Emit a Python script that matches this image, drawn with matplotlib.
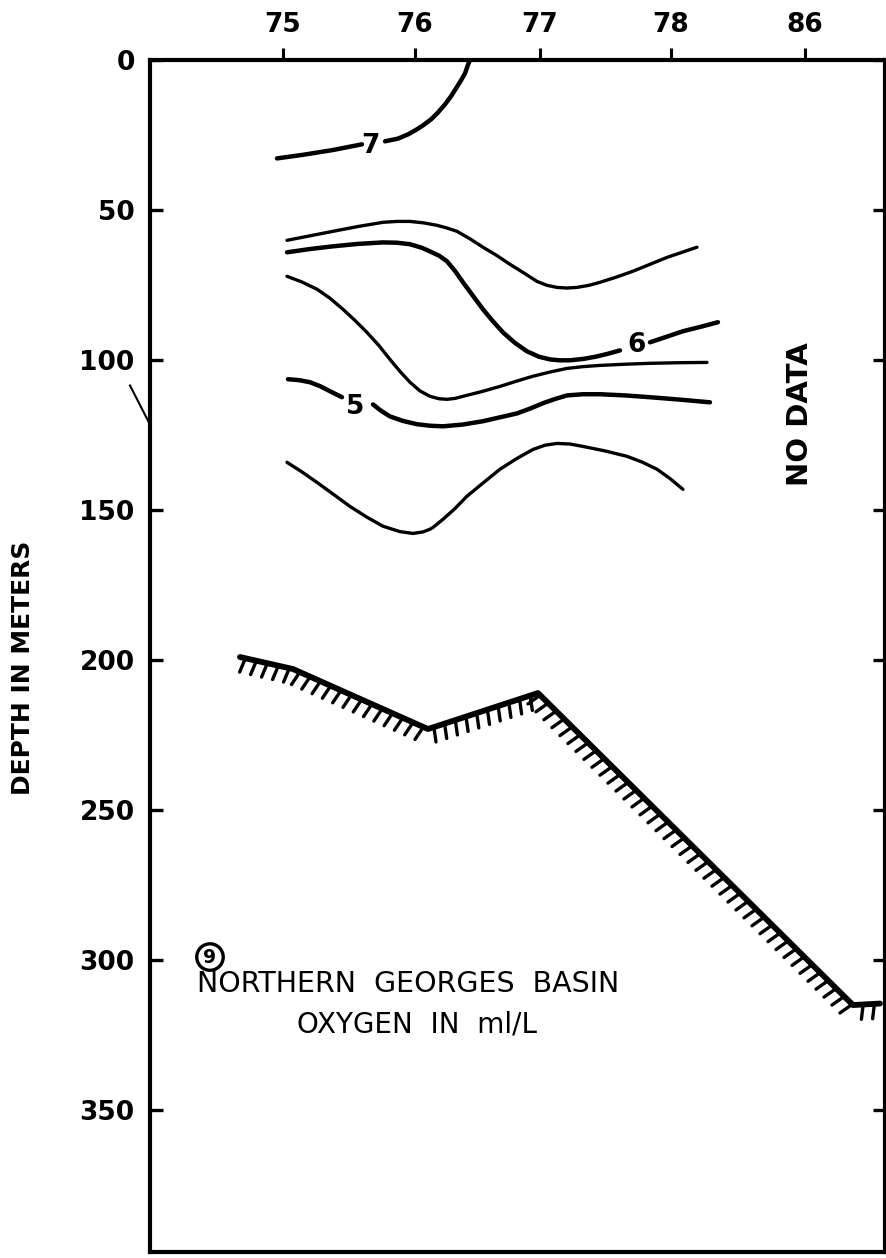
import matplotlib
matplotlib.use('Agg')
import matplotlib.pyplot as plt
from matplotlib import patheffects as pe

# ---------------- data ----------------
stations = ['75', '76', '77', '78', '86']
station_dist = [0, 132, 257, 388, 522]          # along-section position of stations
depth_ticks = [0, 50, 100, 150, 200, 250, 300, 350]

# 7 ml/L isoline (broken for label)
c7a_x = [-6, 20, 50, 79]
c7a_d = [32.8, 31.6, 30.0, 28.1]
c7b_x = [102, 115, 125, 133, 140, 148, 155, 162, 168, 173, 178, 182, 185, 187]
c7b_d = [27.1, 26.2, 24.8, 23.3, 21.8, 19.8, 17.5, 14.8, 12.1, 9.5, 6.8, 4.5, 1.6, 0.0]

# upper thin isoline
cA_x = [4, 27, 50, 75, 100, 114, 127, 141, 154, 164, 174, 187, 200, 214, 227, 241, 254,
        264, 274, 284, 294, 306, 317, 334, 350, 367, 384, 399, 414]
cA_d = [60.1, 58.6, 57.1, 55.5, 54.1, 53.8, 53.8, 54.3, 55.1, 56.0, 57.1, 59.6, 62.4, 65.2,
        68.1, 71.0, 73.8, 75.1, 75.8, 76.0, 75.8, 75.1, 74.1, 72.3, 70.4, 68.1, 65.8, 64.1, 62.4]

# 6 ml/L isoline (broken for label)
c6a_x = [4, 27, 50, 75, 100, 114, 127, 139, 147, 156, 164, 172, 180, 190, 200, 210, 220,
         232, 244, 256, 267, 277, 287, 301, 314, 325, 337]
c6a_d = [64.1, 63.0, 62.1, 61.3, 60.8, 60.9, 61.4, 62.6, 63.8, 65.2, 67.1, 70.3, 74.1, 78.6,
         83.1, 87.1, 90.8, 94.3, 97.1, 98.9, 99.8, 100.1, 100.1, 99.6, 98.8, 97.9, 96.8]
c6b_x = [367, 384, 400, 418, 435]
c6b_d = [94.1, 92.2, 90.4, 88.9, 87.4]

# middle thin isoline
cC_x = [4, 19, 34, 47, 60, 72, 84, 96, 107, 117, 127, 137, 147, 156, 164, 172, 180, 199,
        217, 234, 250, 267, 284, 300, 317, 342, 367, 395, 424]
cC_d = [72.1, 74.0, 76.4, 79.4, 83.1, 86.8, 90.8, 95.2, 99.8, 103.8, 107.4, 110.3, 112.1,
        112.9, 113.1, 112.8, 112.1, 110.5, 108.8, 107.0, 105.4, 104.0, 102.8, 102.2, 101.8,
        101.4, 101.1, 100.9, 100.8]

# 5 ml/L isoline (broken for label)
c5a_x = [5, 16, 27, 37, 47, 59]
c5a_d = [106.4, 106.7, 107.4, 108.7, 110.4, 112.4]
c5b_x = [90, 98, 107, 120, 134, 147, 160, 180, 200, 217, 234, 247, 260, 272, 284, 300, 317,
         342, 367, 397, 427]
c5b_d = [114.8, 116.9, 118.8, 120.3, 121.4, 121.9, 122.1, 121.5, 120.4, 119.1, 117.8, 116.2,
         114.4, 113.0, 111.8, 111.4, 111.4, 111.8, 112.4, 113.2, 114.1]

# lower thin isoline
cE_x = [4, 19, 34, 51, 67, 84, 100, 117, 130, 140, 147, 150, 160, 172, 184, 200, 217, 234,
        250, 262, 274, 287, 300, 322, 344, 359, 374, 387, 400]
cE_d = [134.1, 137.3, 140.8, 144.9, 148.8, 152.4, 155.4, 157.2, 157.8, 157.3, 156.4, 155.8,
        153.1, 149.5, 145.4, 141.0, 136.4, 132.8, 129.8, 128.4, 127.8, 128.0, 128.8, 130.3,
        132.1, 134.0, 136.4, 139.5, 143.1]

# sea bottom
bot_x = [-43, 10, 145, 255, 570, 597]
bot_d = [199.0, 203.0, 223.0, 211.0, 315.0, 314.5]

labels = [('7', 87, 28.8), ('6', 354, 95.0), ('5', 72, 115.5)]

# ---------------- figure ----------------
fig = plt.figure(figsize=(8.87, 12.58), dpi=100)
ax = fig.add_axes([0.1691, 0.0048, 0.8286, 0.9475])

thick = 3.2
thin = 2.4
kw = dict(color='black', solid_capstyle='round', solid_joinstyle='round')
ax.plot(c7a_x, c7a_d, lw=thick, **kw)
ax.plot(c7b_x, c7b_d, lw=thick, **kw)
ax.plot(cA_x, cA_d, lw=thin, **kw)
ax.plot(c6a_x, c6a_d, lw=thick, **kw)
ax.plot(c6b_x, c6b_d, lw=thick, **kw)
ax.plot(cC_x, cC_d, lw=thin, **kw)
ax.plot(c5a_x, c5a_d, lw=thick, **kw)
ax.plot(c5b_x, c5b_d, lw=thick, **kw)
ax.plot(cE_x, cE_d, lw=thin, **kw)

ax.plot(bot_x, bot_d, lw=4.2, color='black', solid_joinstyle='round',
        solid_capstyle='round',
        path_effects=[pe.withTickedStroke(angle=-100, spacing=8.0, length=1.35,
                                          linewidth=2.4)])

for txt, x, d in labels:
    ax.text(x, d, txt, fontsize=19, fontweight='bold', ha='center', va='center')

ax.text(517, 118, 'NO DATA', rotation=90, fontsize=21, fontweight='bold',
        ha='center', va='center')

ax.text(-73, 299, '9', fontsize=13.5, fontweight='bold', ha='center', va='center',
        bbox=dict(boxstyle='circle,pad=0.2', fc='none', ec='black', lw=2.4))
ax.text(-86, 308, 'NORTHERN  GEORGES  BASIN', fontsize=20.5, ha='left', va='center')
ax.text(134, 321.5, 'OXYGEN  IN  ml/L', fontsize=20, ha='center', va='center')

# small stray mark at left frame
ax.plot([-153, -133], [108.5, 121.5], color='black', lw=1.5, clip_on=False)

ax.set_xlim(-133, 602)
ax.set_ylim(397.3, 0)
ax.set_xticks(station_dist)
ax.set_xticklabels(stations)
ax.set_yticks(depth_ticks)
ax.set_yticklabels([str(v) for v in depth_ticks])

ax.xaxis.set_ticks_position('top')
ax.tick_params(axis='x', which='both', top=True, bottom=False, labeltop=True,
               labelbottom=False, direction='out', length=8.5, width=2.2, pad=7,
               labelsize=19)
ax.tick_params(axis='y', which='both', left=True, right=True, direction='in',
               length=9.0, width=2.4, pad=11, labelsize=19)
for lab in ax.get_xticklabels() + ax.get_yticklabels():
    lab.set_fontweight('bold')

for s in ax.spines.values():
    s.set_linewidth(3.0)

ax.set_ylabel('DEPTH IN METERS', fontsize=18, fontweight='bold')
ax.yaxis.set_label_coords(-0.156, 0.49)

fig.savefig('out.png', dpi=100)
